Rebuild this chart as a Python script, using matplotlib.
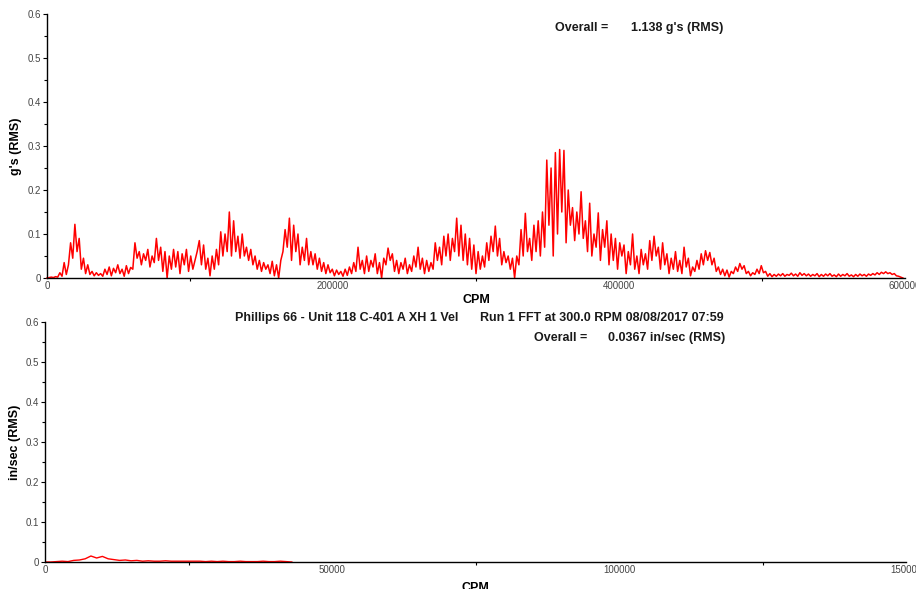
import matplotlib
matplotlib.use("Agg")
import matplotlib.pyplot as plt
from matplotlib.ticker import MultipleLocator, FuncFormatter
import numpy as np

plt.rcParams['font.family'] = ['Liberation Sans', 'DejaVu Sans']

# ---- Data ----
# Top spectrum: acceleration, g's (RMS), one value every 1500 CPM starting at 0
accel_step_cpm = 1500
accel_g = [
    0.000, 0.001, 0.002, 0.001, 0.003, 0.002, 0.012, 0.004, 0.035, 0.008,
    0.030, 0.080, 0.045, 0.122, 0.060, 0.090, 0.020, 0.045, 0.010, 0.030,
    0.008, 0.015, 0.005, 0.012, 0.006, 0.010, 0.004, 0.020, 0.008, 0.025,
    0.005, 0.022, 0.012, 0.030, 0.010, 0.020, 0.004, 0.028, 0.010, 0.024,
    0.020, 0.080, 0.045, 0.060, 0.030, 0.055, 0.040, 0.065, 0.025, 0.050,
    0.035, 0.090, 0.040, 0.070, 0.015, 0.060, 0.000, 0.050, 0.020, 0.065,
    0.025, 0.060, 0.010, 0.055, 0.030, 0.065, 0.015, 0.050, 0.020, 0.040,
    0.060, 0.085, 0.030, 0.075, 0.020, 0.045, 0.005, 0.050, 0.020, 0.065,
    0.030, 0.105, 0.050, 0.100, 0.060, 0.150, 0.050, 0.130, 0.060, 0.095,
    0.045, 0.100, 0.050, 0.070, 0.040, 0.065, 0.030, 0.050, 0.020, 0.040,
    0.015, 0.035, 0.020, 0.030, 0.010, 0.038, 0.005, 0.030, 0.000, 0.040,
    0.060, 0.110, 0.070, 0.136, 0.040, 0.120, 0.060, 0.100, 0.030, 0.070,
    0.040, 0.090, 0.030, 0.060, 0.030, 0.055, 0.020, 0.045, 0.015, 0.035,
    0.010, 0.030, 0.012, 0.020, 0.005, 0.018, 0.008, 0.015, 0.004, 0.020,
    0.006, 0.025, 0.010, 0.035, 0.015, 0.070, 0.020, 0.040, 0.010, 0.050,
    0.015, 0.040, 0.025, 0.055, 0.010, 0.035, 0.000, 0.045, 0.030, 0.068,
    0.040, 0.055, 0.015, 0.040, 0.010, 0.035, 0.020, 0.045, 0.010, 0.030,
    0.015, 0.050, 0.025, 0.070, 0.020, 0.045, 0.010, 0.040, 0.015, 0.035,
    0.020, 0.080, 0.040, 0.070, 0.030, 0.095, 0.050, 0.100, 0.040, 0.090,
    0.060, 0.136, 0.050, 0.120, 0.040, 0.100, 0.030, 0.090, 0.020, 0.075,
    0.010, 0.060, 0.020, 0.050, 0.025, 0.080, 0.040, 0.095, 0.060, 0.118,
    0.050, 0.090, 0.030, 0.060, 0.035, 0.050, 0.020, 0.045, 0.000, 0.050,
    0.030, 0.110, 0.050, 0.147, 0.060, 0.090, 0.040, 0.120, 0.060, 0.130,
    0.050, 0.150, 0.070, 0.268, 0.120, 0.250, 0.050, 0.285, 0.100, 0.292,
    0.150, 0.290, 0.080, 0.200, 0.120, 0.160, 0.085, 0.150, 0.100, 0.196,
    0.090, 0.130, 0.060, 0.170, 0.050, 0.100, 0.070, 0.148, 0.040, 0.110,
    0.070, 0.130, 0.030, 0.100, 0.040, 0.090, 0.020, 0.080, 0.050, 0.075,
    0.010, 0.060, 0.030, 0.100, 0.020, 0.050, 0.010, 0.065, 0.030, 0.055,
    0.020, 0.085, 0.040, 0.095, 0.050, 0.070, 0.020, 0.080, 0.030, 0.055,
    0.010, 0.045, 0.020, 0.060, 0.015, 0.040, 0.010, 0.070, 0.025, 0.045,
    0.005, 0.025, 0.015, 0.040, 0.020, 0.055, 0.030, 0.062, 0.040, 0.058,
    0.030, 0.045, 0.015, 0.025, 0.008, 0.020, 0.005, 0.018, 0.002, 0.015,
    0.010, 0.025, 0.015, 0.033, 0.020, 0.028, 0.010, 0.015, 0.005, 0.012,
    0.008, 0.020, 0.010, 0.028, 0.012, 0.015, 0.004, 0.010, 0.003, 0.008,
    0.004, 0.009, 0.005, 0.010, 0.004, 0.008, 0.006, 0.011, 0.005, 0.009,
    0.004, 0.012, 0.006, 0.010, 0.005, 0.009, 0.004, 0.008, 0.005, 0.010,
    0.003, 0.008, 0.004, 0.009, 0.005, 0.010, 0.004, 0.007, 0.003, 0.009,
    0.004, 0.008, 0.005, 0.010, 0.004, 0.007, 0.003, 0.008, 0.004, 0.009,
    0.005, 0.008, 0.004, 0.009, 0.006, 0.010, 0.007, 0.012, 0.008, 0.013,
    0.010, 0.014, 0.010, 0.012, 0.008, 0.010, 0.005, 0.004, 0.002, 0.000,
]

# Bottom spectrum: velocity, in/sec (RMS), one value every 1000 CPM starting at 0
vel_step_cpm = 1000
vel_ips = [
    0.000, 0.000, 0.001, 0.002, 0.001, 0.004, 0.005, 0.008, 0.015, 0.010,
    0.014, 0.008, 0.006, 0.004, 0.005, 0.003, 0.004, 0.002, 0.003, 0.002,
    0.002, 0.003, 0.002, 0.002, 0.002, 0.002, 0.002, 0.002, 0.001, 0.002,
    0.001, 0.002, 0.001, 0.001, 0.002, 0.001, 0.001, 0.001, 0.002, 0.001,
    0.001, 0.002, 0.001, 0.000,
]

top_xlim = (0, 600000)
bot_xlim = (0, 150000)
ylim = (0, 0.6)

top_overall_label = "Overall ="
top_overall_value = "1.138 g's (RMS)"
title_left = "Phillips 66 - Unit 118 C-401 A XH 1 Vel"
title_right = "Run 1 FFT at 300.0 RPM 08/08/2017 07:59"
bot_overall_label = "Overall ="
bot_overall_value = "0.0367 in/sec (RMS)"

W, H = 916, 589
fig = plt.figure(figsize=(W / 100, H / 100), dpi=100)

def px_rect(x0, y0, x1, y1):
    return [x0 / W, 1 - y1 / H, (x1 - x0) / W, (y1 - y0) / H]

ax1 = fig.add_axes(px_rect(47, 14, 905, 278))
ax2 = fig.add_axes(px_rect(45, 322, 906, 562))

tick_color = '#454545'

def fmt_y(v, pos):
    if abs(v) < 1e-9:
        return "0"
    return f"{v:.1f}"

def style(ax, xmaj, xmin):
    for s in ['top', 'right']:
        ax.spines[s].set_visible(False)
    for s in ['left', 'bottom']:
        ax.spines[s].set_color('black')
        ax.spines[s].set_linewidth(1.0)
    ax.set_ylim(*ylim)
    ax.yaxis.set_major_locator(MultipleLocator(0.1))
    ax.yaxis.set_minor_locator(MultipleLocator(0.05))
    ax.yaxis.set_major_formatter(FuncFormatter(fmt_y))
    ax.xaxis.set_major_locator(MultipleLocator(xmaj))
    ax.xaxis.set_minor_locator(MultipleLocator(xmin))
    ax.xaxis.set_major_formatter(FuncFormatter(lambda v, p: f"{int(round(v))}"))
    ax.tick_params(axis='both', which='major', direction='out', length=3,
                   width=0.8, labelsize=7, labelcolor=tick_color, pad=1)
    ax.tick_params(axis='both', which='minor', direction='out', length=2,
                   width=0.8)
    ax.tick_params(axis='x', which='major', length=0, pad=2)
    ax.patch.set_alpha(0)

x_top = np.arange(len(accel_g)) * accel_step_cpm
ax1.plot(x_top, accel_g, color='#ff0000', linewidth=1.1, clip_on=False)
ax1.set_xlim(*top_xlim)
style(ax1, 200000, 100000)
ax1.set_ylabel("g's (RMS)", fontsize=9, fontweight='bold')
ax1.yaxis.set_label_coords((22 - 47) / 858, 0.5)
ax1.set_xlabel("CPM", fontsize=9, fontweight='bold', labelpad=2)

x_bot = np.arange(len(vel_ips)) * vel_step_cpm
ax2.plot(x_bot, vel_ips, color='#ff0000', linewidth=1.0)
ax2.set_xlim(*bot_xlim)
style(ax2, 50000, 25000)
ax2.set_ylabel("in/sec (RMS)", fontsize=9, fontweight='bold')
ax2.yaxis.set_label_coords((21 - 45) / 861, 0.5)
ax2.set_xlabel("CPM", fontsize=9, fontweight='bold', labelpad=5)

txt_kw = dict(fontsize=9, fontweight='bold', color='#1a1a1a', va='center', ha='left')
fig.text(555 / W, 1 - 28 / H, top_overall_label, **txt_kw)
fig.text(631 / W, 1 - 28 / H, top_overall_value, **txt_kw)
fig.text(235 / W, 1 - 318 / H, title_left, **txt_kw)
fig.text(480 / W, 1 - 318 / H, title_right, **txt_kw)
fig.text(534 / W, 1 - 338 / H, bot_overall_label, **txt_kw)
fig.text(608 / W, 1 - 338 / H, bot_overall_value, **txt_kw)

fig.savefig("out.png", dpi=100, facecolor='white')
